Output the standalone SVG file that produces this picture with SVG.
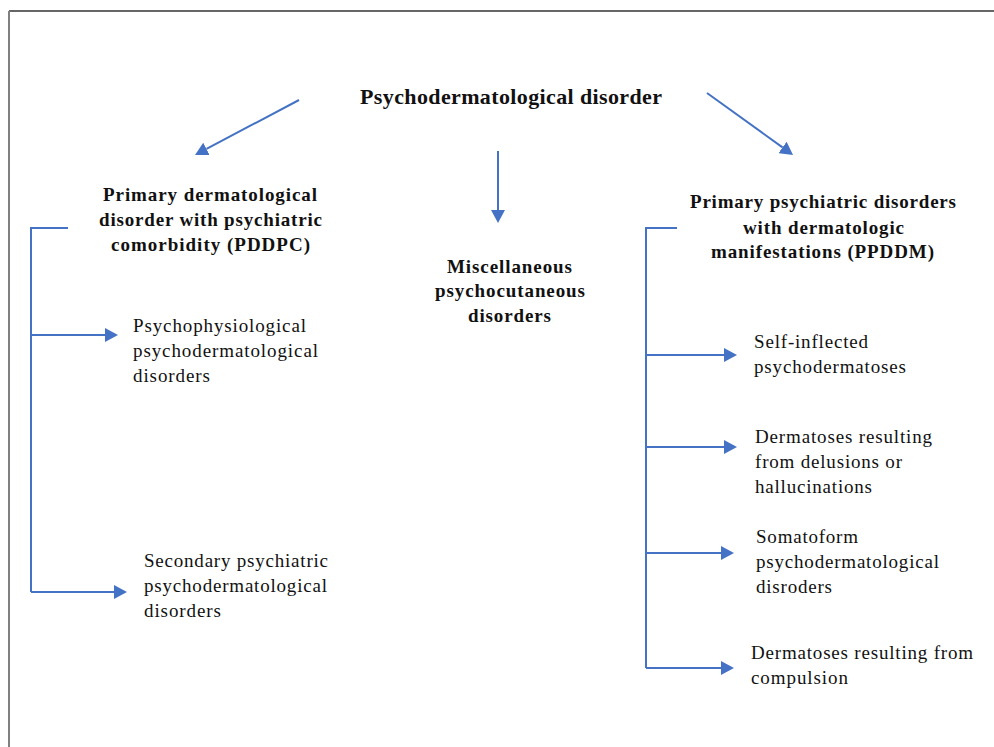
<svg xmlns="http://www.w3.org/2000/svg" width="994" height="747" viewBox="0 0 994 747">
<style>
.b{font-weight:bold;font-size:19px;fill:#111}
.r{font-size:19px;fill:#111}
.t{font-size:22px}
.c{stroke:#4472C4;stroke-width:2;fill:none}
.a{marker-end:url(#ah)}
</style>
<defs>
<marker id="ah" markerUnits="userSpaceOnUse" markerWidth="13" markerHeight="14" refX="0" refY="7" orient="auto">
<path d="M0,0 L13,7 L0,14 z" fill="#4472C4"/>
</marker>
</defs>
<rect width="994" height="747" fill="#fff"/>
<g id="frame">
<line x1="9" y1="11" x2="994" y2="11" stroke="#333" stroke-width="1.4"/>
<line x1="9" y1="11" x2="9" y2="747" stroke="#808080" stroke-width="2"/>
</g>
<g id="connectors">
<line class="c a" x1="299" y1="100" x2="206.5" y2="148.9"/>
<line class="c a" x1="498" y1="151" x2="498" y2="210"/>
<line class="c a" x1="707" y1="93" x2="782.5" y2="147.4"/>
<polyline class="c" points="68,228 31,228 31,592"/>
<line class="c a" x1="31" y1="335" x2="105" y2="335"/>
<line class="c a" x1="31" y1="592" x2="114" y2="592"/>
<polyline class="c" points="677,228 646,228 646,668"/>
<line class="c a" x1="646" y1="355" x2="724" y2="355"/>
<line class="c a" x1="646" y1="447" x2="724" y2="447"/>
<line class="c a" x1="646" y1="553" x2="721" y2="553"/>
<line class="c a" x1="646" y1="668" x2="721" y2="668"/>
</g>
<g font-family="Liberation Serif, Times New Roman, serif">
<g id="root">
<text class="b t" x="360" y="104" textLength="302" lengthAdjust="spacing">Psychodermatological disorder</text>
</g>
<g id="pddpc">
<text class="b" x="103" y="201" textLength="214" lengthAdjust="spacing">Primary dermatological</text>
<text class="b" x="99" y="226" textLength="223" lengthAdjust="spacing">disorder with psychiatric</text>
<text class="b" x="111" y="251" textLength="199" lengthAdjust="spacing">comorbidity (PDDPC)</text>
</g>
<g id="misc">
<text class="b" x="447" y="273" textLength="125" lengthAdjust="spacing">Miscellaneous</text>
<text class="b" x="435" y="297" textLength="150" lengthAdjust="spacing">psychocutaneous</text>
<text class="b" x="468" y="322" textLength="83" lengthAdjust="spacing">disorders</text>
</g>
<g id="ppddm">
<text class="b" x="690" y="208" textLength="266" lengthAdjust="spacing">Primary psychiatric disorders</text>
<text class="b" x="743" y="234" textLength="161" lengthAdjust="spacing">with dermatologic</text>
<text class="b" x="711" y="258" textLength="223" lengthAdjust="spacing">manifestations (PPDDM)</text>
</g>
<g id="psychophysiological">
<text class="r" x="133" y="332" textLength="173" lengthAdjust="spacing">Psychophysiological</text>
<text class="r" x="133" y="357" textLength="185" lengthAdjust="spacing">psychodermatological</text>
<text class="r" x="133" y="382" textLength="77" lengthAdjust="spacing">disorders</text>
</g>
<g id="secondary">
<text class="r" x="144" y="567" textLength="184" lengthAdjust="spacing">Secondary psychiatric</text>
<text class="r" x="144" y="592" textLength="183" lengthAdjust="spacing">psychodermatological</text>
<text class="r" x="144" y="617" textLength="77" lengthAdjust="spacing">disorders</text>
</g>
<g id="selfinflected">
<text class="r" x="754" y="348" textLength="114" lengthAdjust="spacing">Self-inflected</text>
<text class="r" x="754" y="373" textLength="152" lengthAdjust="spacing">psychodermatoses</text>
</g>
<g id="delusions">
<text class="r" x="755" y="443" textLength="177" lengthAdjust="spacing">Dermatoses resulting</text>
<text class="r" x="755" y="468" textLength="147" lengthAdjust="spacing">from delusions or</text>
<text class="r" x="755" y="493" textLength="117" lengthAdjust="spacing">hallucinations</text>
</g>
<g id="somatoform">
<text class="r" x="756" y="543" textLength="102" lengthAdjust="spacing">Somatoform</text>
<text class="r" x="756" y="568" textLength="183" lengthAdjust="spacing">psychodermatological</text>
<text class="r" x="756" y="593" textLength="76" lengthAdjust="spacing">disroders</text>
</g>
<g id="compulsion">
<text class="r" x="751" y="659" textLength="222" lengthAdjust="spacing">Dermatoses resulting from</text>
<text class="r" x="751" y="684" textLength="97" lengthAdjust="spacing">compulsion</text>
</g>
</g>
</svg>
